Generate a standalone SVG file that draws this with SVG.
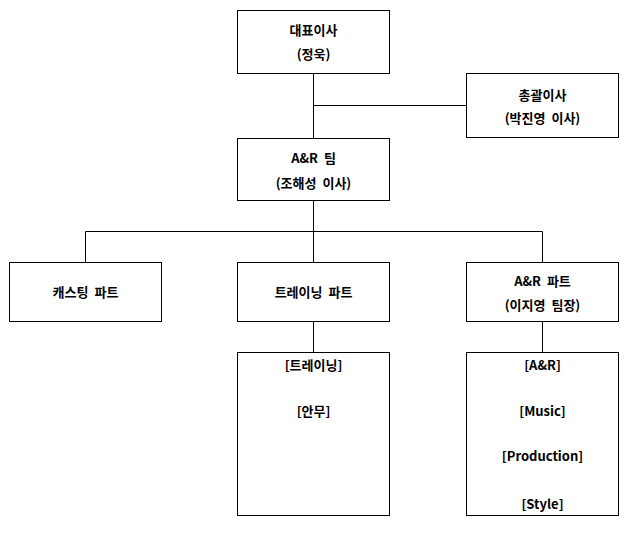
<svg xmlns="http://www.w3.org/2000/svg" width="637" height="534" viewBox="0 0 637 534">
<style>
rect{fill:#fff;stroke:#000;stroke-width:1}
.c line{stroke:#000;stroke-width:1}
text{font-family:"Noto Sans CJK KR","Noto Sans",sans-serif;font-weight:bold;font-size:13px;text-anchor:middle;fill:#000;word-spacing:3px}
</style>
<rect width="637" height="534" style="stroke:none"/>
<g class="c" id="connectors">
<line x1="313.5" y1="73.5" x2="313.5" y2="138.5"/>
<line x1="313.5" y1="105.5" x2="466.5" y2="105.5"/>
<line x1="313.5" y1="200.5" x2="313.5" y2="262.5"/>
<line x1="85.5" y1="231.5" x2="542.5" y2="231.5"/>
<line x1="85.5" y1="231.5" x2="85.5" y2="262.5"/>
<line x1="542.5" y1="231.5" x2="542.5" y2="262.5"/>
<line x1="313.5" y1="321.5" x2="313.5" y2="352.5"/>
<line x1="542.5" y1="321.5" x2="542.5" y2="352.5"/>
</g>
<g id="ceo"><rect x="237.5" y="10.5" width="152" height="63"/><text x="313.5" y="35">대표이사</text><text x="313.5" y="59">(정욱)</text></g>
<g id="gm"><rect x="466.5" y="73.5" width="152" height="64"/><text x="542.5" y="100">총괄이사</text><text x="542.5" y="123">(박진영 이사)</text></g>
<g id="ar-team"><rect x="237.5" y="138.5" width="152" height="62"/><text x="313.5" y="163">A&amp;R 팀</text><text x="313.5" y="188">(조해성 이사)</text></g>
<g id="casting"><rect x="9.5" y="262.5" width="152" height="59"/><text x="85.5" y="297">캐스팅 파트</text></g>
<g id="training"><rect x="237.5" y="262.5" width="152" height="59"/><text x="313.5" y="297">트레이닝 파트</text></g>
<g id="ar-part"><rect x="466.5" y="262.5" width="152" height="59"/><text x="542.5" y="286">A&amp;R 파트</text><text x="542.5" y="310">(이지영 팀장)</text></g>
<g id="training-detail"><rect x="237.5" y="352.5" width="152" height="163"/><text x="313.5" y="370">[트레이닝]</text><text x="313.5" y="416">[안무]</text></g>
<g id="ar-detail"><rect x="466.5" y="352.5" width="152" height="163"/><text x="542.5" y="370">[A&amp;R]</text><text x="542.5" y="416">[Music]</text><text x="542.5" y="461">[Production]</text><text x="542.5" y="509">[Style]</text></g>
</svg>
